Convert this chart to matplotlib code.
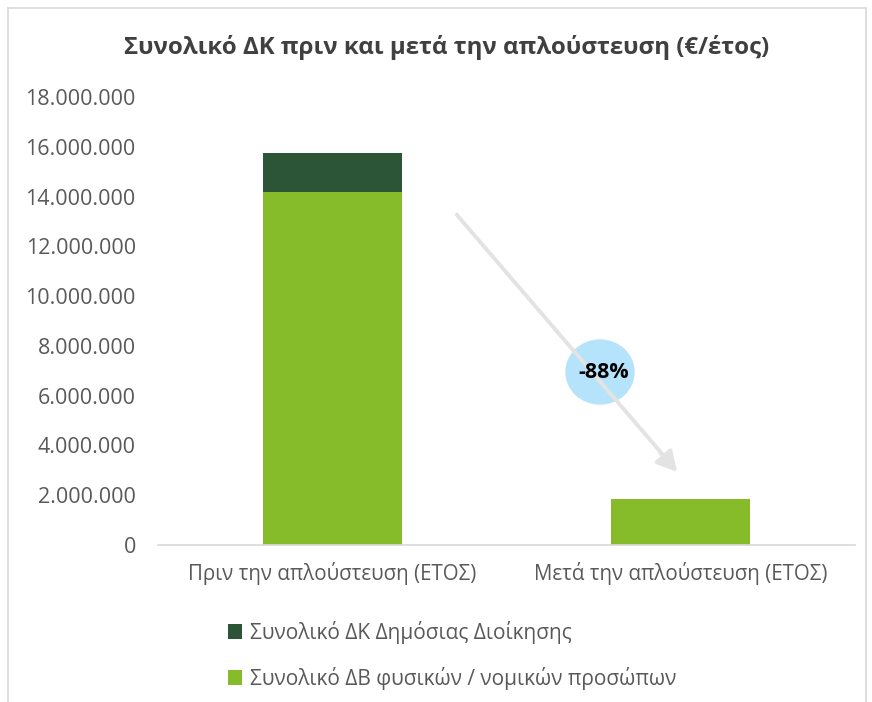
import matplotlib.pyplot as plt
from matplotlib.patches import Ellipse
from matplotlib.lines import Line2D
from matplotlib.ticker import FuncFormatter

plt.rcParams['font.family'] = ['Open Sans', 'DejaVu Sans']

categories = ['Πριν την απλούστευση (ΕΤΟΣ)', 'Μετά την απλούστευση (ΕΤΟΣ)']
citizens = [14200000, 1850000]     # ΔΒ φυσικών / νομικών προσώπων
public_admin = [1550000, 0]        # ΔΚ Δημόσιας Διοίκησης
change_label = '-88%'

light_green = '#86bb2a'
dark_green = '#2c5436'
text_col = '#595959'

fig = plt.figure(figsize=(8.72, 7.02), dpi=100)
W, H = 872, 702
ax = fig.add_axes([158 / W, 1 - 545 / H, (855 - 158) / W, (545 - 97) / H])

x = range(len(categories))
ax.bar(x, citizens, width=0.40, color=light_green, zorder=2,
       label='Συνολικό ΔΒ φυσικών / νομικών προσώπων')
ax.bar(x, public_admin, width=0.40, bottom=citizens, color=dark_green, zorder=2,
       label='Συνολικό ΔΚ Δημόσιας Διοίκησης')

ax.set_xlim(-0.5, 1.5)
ax.set_ylim(0, 18000000)
ax.set_yticks(range(0, 18000001, 2000000))
ax.yaxis.set_major_formatter(FuncFormatter(lambda v, p: f'{int(v):,}'.replace(',', '.')))
ax.set_xticks(list(x))
ax.set_xticklabels(categories)
ax.tick_params(axis='both', length=0, colors=text_col)
ax.tick_params(axis='y', labelsize=15.5, pad=16)
ax.tick_params(axis='x', labelsize=14.8, pad=12)
for s in ['top', 'right', 'left']:
    ax.spines[s].set_visible(False)
ax.spines['bottom'].set_color('#d9d9d9')
ax.spines['bottom'].set_linewidth(1.2)

fig.text(447 / W, 1 - 48 / H, 'Συνολικό ΔΚ πριν και μετά την απλούστευση (€/έτος)',
         ha='center', va='center', fontsize=17.3, fontweight='bold', color='#404040')

# arrow and percentage bubble, in figure pixels
fig.add_artist(Line2D([457 / W, 670 / W], [1 - 215 / H, 1 - 463 / H],
                      transform=fig.transFigure, color='#e3e3e3', lw=2.8))
ax.annotate('', xy=(679 / W, 1 - 474 / H), xytext=(658 / W, 1 - 450 / H),
            xycoords='figure fraction', textcoords='figure fraction',
            arrowprops=dict(arrowstyle='-|>,head_length=1.2,head_width=0.65',
                            color='#e3e3e3', lw=2.8))
fig.add_artist(Ellipse((600 / W, 1 - 372 / H), 68 / W, 64 / H,
                       transform=fig.transFigure, color='#b5e3fb'))
fig.text(604 / W, 1 - 373 / H, change_label, ha='center', va='center',
         fontsize=15.5, fontweight='bold', color='black')

# legend in two rows, dark series first
handles, labels = ax.get_legend_handles_labels()
leg = fig.legend(handles[::-1], labels[::-1], loc='upper left',
                 bbox_to_anchor=(209 / W, 1 - 602 / H), frameon=False,
                 fontsize=15, handlelength=0.7, handleheight=0.7,
                 handletextpad=0.35, labelspacing=1.1, labelcolor=text_col)

# chart area border
for xs, ys in [([8, 8], [8, 702]), ([8, 866], [8, 8]), ([866, 866], [8, 702])]:
    fig.add_artist(Line2D([v / W for v in xs], [1 - v / H for v in ys],
                          transform=fig.transFigure, color='#d9d9d9', lw=1.2))

fig.savefig('out.png', dpi=100)
